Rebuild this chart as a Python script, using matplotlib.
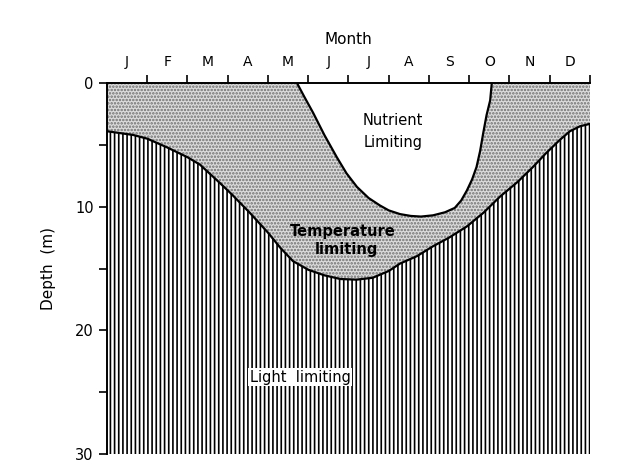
import matplotlib

matplotlib.use('Agg')
import matplotlib.pyplot as plt
import numpy as np

# month labels sit between the month boundaries (x = 0..12)
months = ['J', 'F', 'M', 'A', 'M', 'J', 'J', 'A', 'S', 'O', 'N', 'D']

# boundary between light limited (below) and temperature limited (above)
light_month = [0.0, 0.65, 1.0, 1.49, 2.0, 2.31, 2.81, 3.1, 3.55, 4.0, 4.3, 4.62, 5.0, 5.4,
               5.8, 6.2, 6.6, 7.0, 7.28, 7.7, 8.1, 8.5, 8.94, 9.35, 9.76, 10.2, 10.58, 10.9, 11.25, 11.5, 11.75, 12.0]
light_depth = [3.9, 4.2, 4.5, 5.2, 6.0, 6.6, 8.1, 9.0, 10.5, 12.1, 13.3, 14.4, 15.1, 15.55,
               15.85, 15.9, 15.75, 15.2, 14.6, 14.0, 13.2, 12.5, 11.6, 10.5, 9.2, 8.0, 6.8, 5.7, 4.6, 3.9, 3.5, 3.3]

# outline of the nutrient limited region (open at the surface)
nut_month = [4.72, 4.9, 5.12, 5.4, 5.71, 5.95, 6.21, 6.5, 6.78, 7.0, 7.28, 7.55, 7.8, 8.1, 8.4,
             8.64, 8.8, 8.94, 9.07, 9.18, 9.27, 9.35, 9.43, 9.52, 9.56]
nut_depth = [0.0, 1.1, 2.4, 4.2, 6.0, 7.3, 8.4, 9.3, 9.9, 10.3, 10.6, 10.75, 10.8, 10.7, 10.45,
             10.1, 9.5, 8.7, 7.8, 6.8, 5.5, 4.0, 2.6, 1.4, 0.0]

depth_ticks = [0, 10, 20, 30]
depth_minor = [5, 15, 25]

plt.rcParams['hatch.linewidth'] = 1.2

fig = plt.figure(figsize=(6.18, 4.76), dpi=100)
ax = fig.add_axes([0.1731, 0.0462, 0.7816, 0.7794])

# light limiting: dense vertical lines below the boundary
ax.fill_between(light_month, light_depth, 30, facecolor='white', edgecolor='black',
                hatch='||||', linewidth=0)
# temperature limiting: grey stipple above the boundary
ax.fill_between(light_month, 0, light_depth, facecolor='#dcdcdc', edgecolor='#6e6e6e',
                hatch='.....', linewidth=0)
# nutrient limiting: clear
ax.fill_between(nut_month, 0, nut_depth, facecolor='white', edgecolor='none', linewidth=0)

ax.plot(light_month, light_depth, color='black', lw=1.6)
ax.plot(nut_month, nut_depth, color='black', lw=1.6)

ax.text(7.1, 3.0, 'Nutrient', ha='center', va='center', fontsize=10.5)
ax.text(7.1, 4.8, 'Limiting', ha='center', va='center', fontsize=10.5)
ax.text(5.86, 12.0, 'Temperature', ha='center', va='center', fontsize=10.5, fontweight='bold')
ax.text(5.96, 13.5, 'limiting', ha='center', va='center', fontsize=10.5, fontweight='bold')
ax.text(4.8, 23.8, 'Light  limiting', ha='center', va='center', fontsize=10.5,
        bbox=dict(facecolor='white', edgecolor='none', pad=1))

ax.set_xlim(0, 12)
ax.set_ylim(30, 0)

ax.xaxis.tick_top()
ax.xaxis.set_label_position('top')
ax.set_xticks(np.arange(1, 13))
ax.set_xticklabels([])
ax.set_xticks(np.arange(12) + 0.5, minor=True)
ax.set_xticklabels(months, minor=True, fontsize=10)
ax.tick_params(axis='x', which='major', direction='out', length=6, width=1.2)
ax.tick_params(axis='x', which='minor', length=0, pad=10)
ax.set_xlabel('Month', fontsize=11, labelpad=8)

ax.set_yticks(depth_ticks)
ax.set_yticks(depth_minor, minor=True)
ax.set_yticklabels([str(d) for d in depth_ticks], fontsize=10.5)
ax.tick_params(axis='y', which='both', direction='out', length=6, width=1.2)
ax.set_ylabel('Depth  (m)', fontsize=11, labelpad=14)

ax.spines['right'].set_visible(False)
ax.spines['bottom'].set_visible(False)
ax.spines['left'].set_linewidth(1.4)
ax.spines['top'].set_linewidth(1.4)

fig.savefig('out.png', dpi=100)
